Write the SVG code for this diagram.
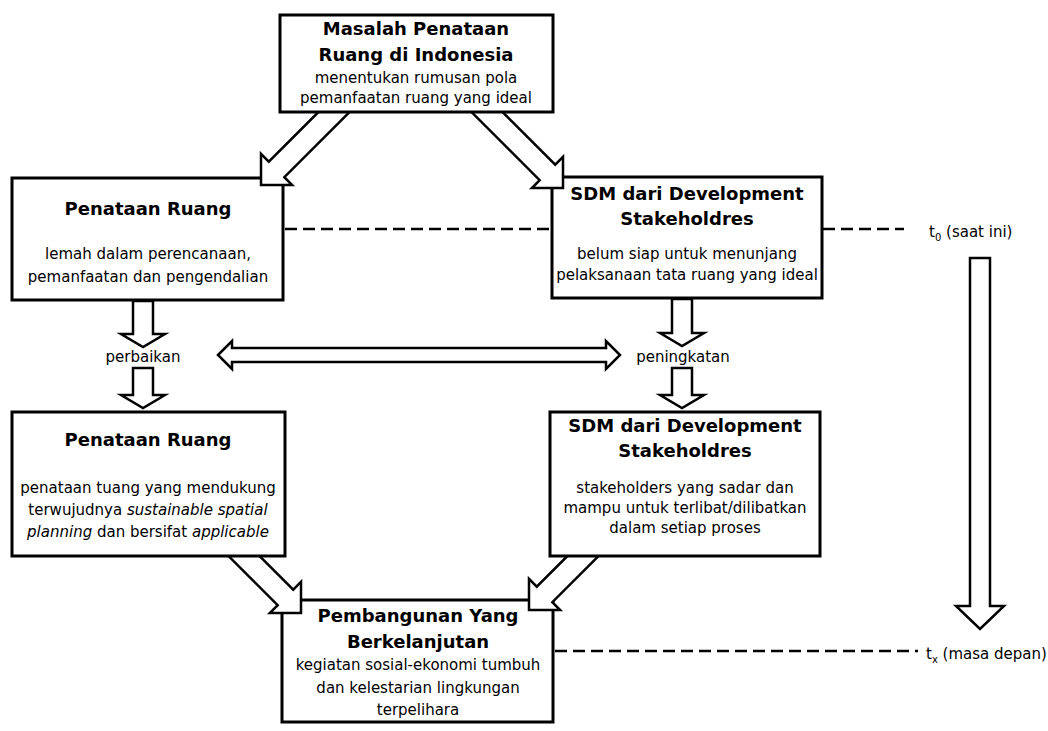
<svg xmlns="http://www.w3.org/2000/svg" width="1048" height="731" viewBox="0 0 1048 731">
<style>
.box{fill:#fff;stroke:#000;stroke-width:3}
.h{font-family:"DejaVu Sans",Verdana,sans-serif;font-weight:bold;font-size:18px;text-anchor:middle;fill:#000}
.b{font-family:"DejaVu Sans",Verdana,sans-serif;font-size:15px;text-anchor:middle;fill:#000}
.t{font-family:"DejaVu Sans",Verdana,sans-serif;font-size:15px;fill:#000}
.arrow{fill:#fff;stroke:#000;stroke-width:2.5;stroke-linejoin:miter}
.dash{fill:none;stroke:#000;stroke-width:2.5;stroke-dasharray:12 6}
</style>
<defs>
<path id="diag" d="M-118,-11 L-22,-11 L-22,-22 L0,0 L-22,22 L-22,11 L-118,11 Z"/>
</defs>
<rect width="1048" height="731" fill="#fff"/>

<g id="dashed-lines">
<line class="dash" x1="285" y1="229" x2="551" y2="229"/>
<line class="dash" x1="823" y1="229" x2="904" y2="229"/>
<line class="dash" x1="555" y1="651" x2="918" y2="651"/>
</g>

<g id="node-penataan-1">
<rect class="box" x="12" y="178" width="271" height="122"/>
<text class="h" x="148" y="215">Penataan Ruang</text>
<text class="b" x="148" y="259">lemah dalam perencanaan,</text>
<text class="b" x="148" y="282">pemanfaatan dan pengendalian</text>
</g>

<g id="node-sdm-1">
<rect class="box" x="552" y="177" width="270" height="121"/>
<text class="h" x="687" y="200">SDM dari Development</text>
<text class="h" x="687" y="225">Stakeholdres</text>
<text class="b" x="687" y="259">belum siap untuk menunjang</text>
<text class="b" x="687" y="280">pelaksanaan tata ruang yang ideal</text>
</g>

<g id="node-pembangunan">
<rect class="box" x="282" y="600" width="271" height="122"/>
<text class="h" x="418" y="622">Pembangunan Yang</text>
<text class="h" x="418" y="648">Berkelanjutan</text>
<text class="b" x="418" y="670">kegiatan sosial-ekonomi tumbuh</text>
<text class="b" x="418" y="693">dan kelestarian lingkungan</text>
<text class="b" x="418" y="715">terpelihara</text>
</g>

<g id="connectors">
<use href="#diag" class="arrow" transform="translate(261,185) rotate(135)"/>
<use href="#diag" class="arrow" transform="translate(563,188) rotate(45)"/>
<use href="#diag" class="arrow" transform="translate(301,613) rotate(45)"/>
<use href="#diag" class="arrow" transform="translate(529,610) rotate(135)"/>
<polygon class="arrow" points="133,301 153,301 153,334 165,334 143,347 121,334 133,334"/>
<polygon class="arrow" points="133,368 153,368 153,395 165,395 143,408 121,395 133,395"/>
<polygon class="arrow" points="672,299 692,299 692,333 704,333 682,346 660,333 672,333"/>
<polygon class="arrow" points="672,368 692,368 692,395 704,395 682,408 660,395 672,395"/>
<polygon class="arrow" points="218,355 232,341 232,348 606,348 606,341 620,355 606,369 606,362 232,362 232,369"/>
<polygon class="arrow" points="970,258 990,258 990,606 1004,606 980,629 956,606 970,606"/>
<text class="b" x="143" y="362">perbaikan</text>
<text class="b" x="683" y="362">peningkatan</text>
</g>

<g id="node-masalah">
<rect class="box" x="280" y="15" width="273" height="97"/>
<text class="h" x="416" y="35">Masalah Penataan</text>
<text class="h" x="416" y="61">Ruang di Indonesia</text>
<text class="b" x="416" y="83">menentukan rumusan pola</text>
<text class="b" x="416" y="103">pemanfaatan ruang yang ideal</text>
</g>

<g id="node-penataan-2">
<rect class="box" x="12" y="412" width="273" height="144"/>
<text class="h" x="148" y="446">Penataan Ruang</text>
<text class="b" x="148" y="493">penataan tuang yang mendukung</text>
<text class="b" x="148" y="515">terwujudnya <tspan font-style="italic">sustainable spatial</tspan></text>
<text class="b" x="148" y="537"><tspan font-style="italic">planning</tspan> dan bersifat <tspan font-style="italic">applicable</tspan></text>
</g>

<g id="node-sdm-2">
<rect class="box" x="550" y="412" width="270" height="144"/>
<text class="h" x="685" y="432">SDM dari Development</text>
<text class="h" x="685" y="457">Stakeholdres</text>
<text class="b" x="685" y="493">stakeholders yang sadar dan</text>
<text class="b" x="685" y="513">mampu untuk terlibat/dilibatkan</text>
<text class="b" x="685" y="533">dalam setiap proses</text>
</g>

<g id="time-labels">
<text class="t" x="929" y="237">t<tspan font-size="10" dy="4">0</tspan><tspan dy="-4"> (saat ini)</tspan></text>
<text class="t" x="926" y="659">t<tspan font-size="10" dy="4">x</tspan><tspan dy="-4"> (masa depan)</tspan></text>
</g>
</svg>
